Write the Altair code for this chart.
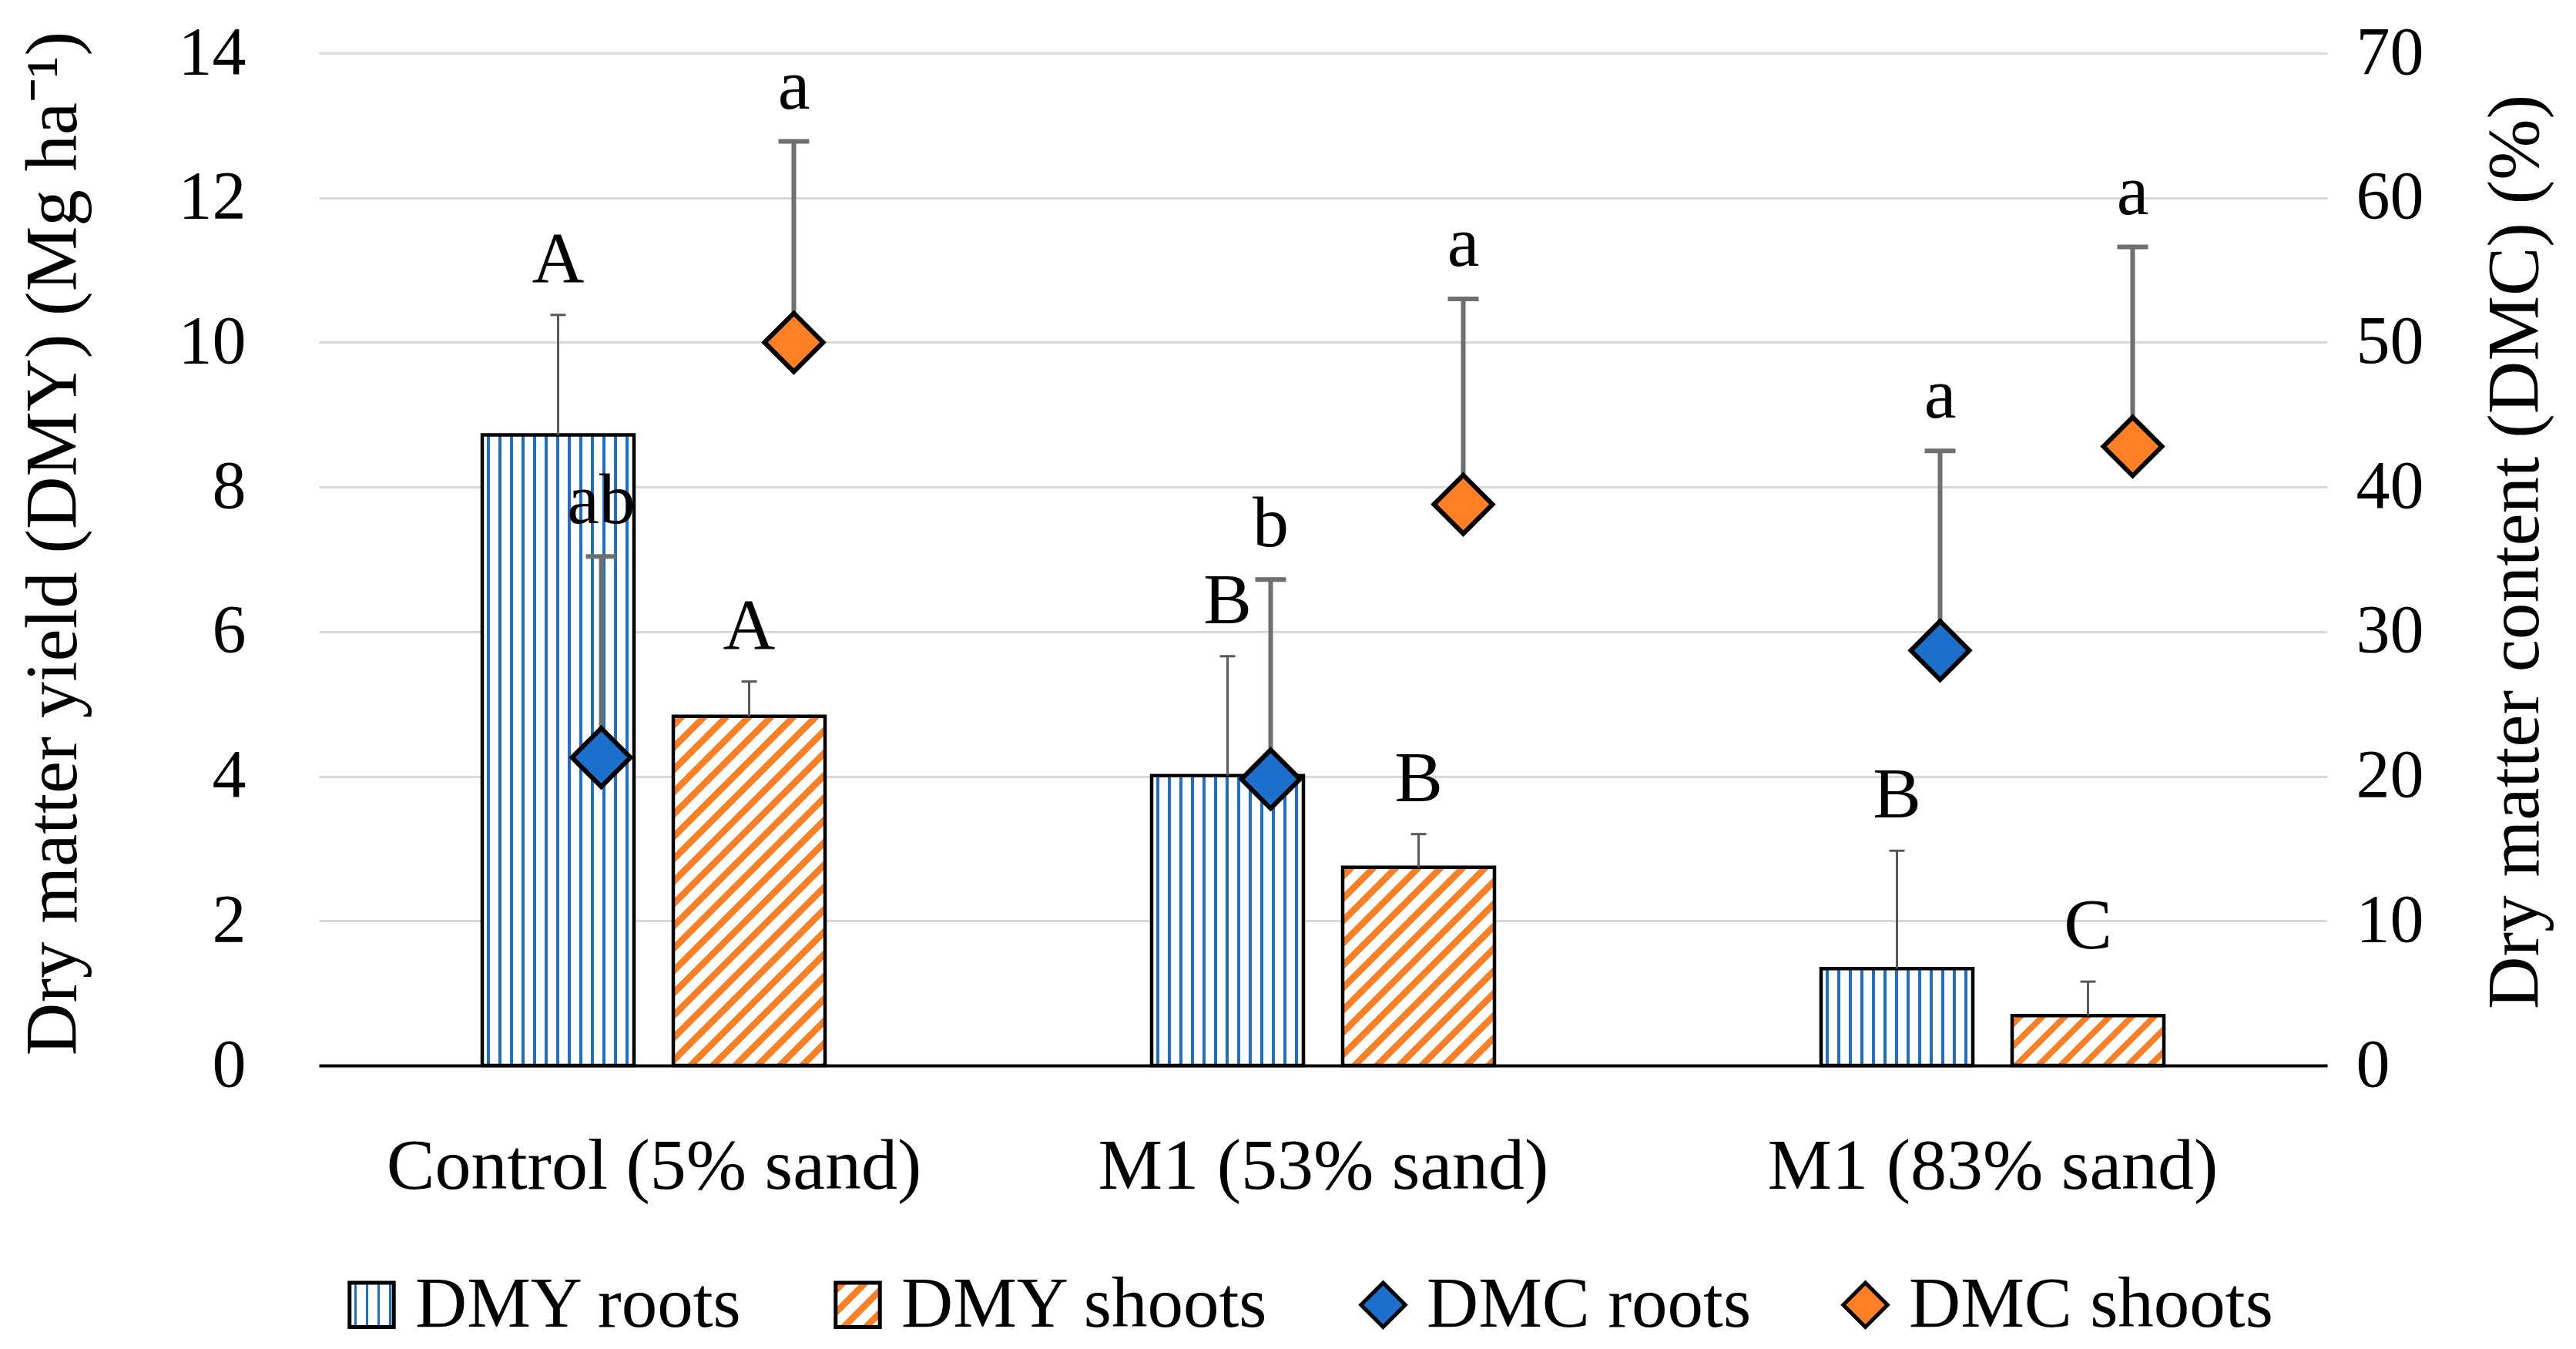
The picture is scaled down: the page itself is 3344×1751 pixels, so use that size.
import json
import altair as alt
import pandas as pd

# ---------------- data ----------------
categories = ["Control (5% sand)", "M1 (53% sand)", "M1 (83% sand)"]
series_names = ["DMY roots", "DMY shoots", "DMC roots", "DMC shoots"]

dmy_roots = [8.72, 4.01, 1.34]
dmy_roots_sd = [1.66, 1.65, 1.63]
dmy_shoots = [4.83, 2.74, 0.69]
dmy_shoots_sd = [0.48, 0.46, 0.47]

dmc_roots = [21.3, 19.8, 28.7]
dmc_roots_sd = [13.9, 13.8, 13.8]
dmc_shoots = [50.0, 38.8, 42.8]
dmc_shoots_sd = [13.9, 14.2, 13.8]

dmy_roots_letters = ["A", "B", "B"]
dmy_shoots_letters = ["A", "B", "C"]
dmc_roots_letters = ["ab", "b", "a"]
dmc_shoots_letters = ["a", "a", "a"]

dmy_ticks = [0, 2, 4, 6, 8, 10, 12, 14]
dmc_ticks = [0, 10, 20, 30, 40, 50, 60, 70]

# ---------------- style / layout ----------------
FONT = "Liberation Serif"
BLUE = "#1C70CC"
ORANGE = "#FF7F24"
PLOT_W, PLOT_H = 2607, 1314
UNIT = PLOT_W / 3.0            # px per category
BAR_W_PX = 197.0
BAR_HALF = BAR_W_PX / 2 / UNIT
BAR_OFF = 124.0 / UNIT
DMC_ROOT_OFF = -68.0 / UNIT
DMC_SHOOT_OFF = 182.0 / UNIT
PX_PER_DMY = PLOT_H / 14.0


def stop(o, c):
    return {"offset": round(max(0.0, min(1.0, o)), 5), "color": c}


def vstripes(w, first=8.0, period=15.0, lw=3.2, color=BLUE):
    stops = [stop(0, "white")]
    p = first - lw / 2
    while p + lw <= w:
        a, b = p / w, (p + lw) / w
        stops += [stop(a, "white"), stop(a, color), stop(b, color), stop(b, "white")]
        p += period
    stops.append(stop(1, "white"))
    return {"gradient": "linear", "x1": 0, "y1": 0, "x2": 1, "y2": 0, "stops": stops}


def dstripes(w, h, period=29.0, frac=0.4, phase=6.0, color=ORANGE):
    L = w + h
    s = w * L / (w * w + h * h)
    stops = [stop(0, "white")]
    p = phase
    while p < L:
        a, b = p / L, (p + frac * period) / L
        stops += [stop(a, "white"), stop(a, color), stop(b, color), stop(b, "white")]
        p += period
    stops.append(stop(1, "white"))
    return {"gradient": "linear", "x1": 0, "y1": 0, "x2": round(s, 5),
            "y2": round(s * h / w, 5), "stops": stops}


# ---------------- tables ----------------
dmy_df = pd.DataFrame({
    "i": list(range(3)) * 2,
    "series": ["DMY roots"] * 3 + ["DMY shoots"] * 3,
    "value": dmy_roots + dmy_shoots,
    "sd": dmy_roots_sd + dmy_shoots_sd,
    "letter": dmy_roots_letters + dmy_shoots_letters,
})
dmc_df = pd.DataFrame({
    "i": list(range(3)) * 2,
    "series": ["DMC roots"] * 3 + ["DMC shoots"] * 3,
    "value": dmc_roots + dmc_shoots,
    "sd": dmc_roots_sd + dmc_shoots_sd,
    "letter": dmc_roots_letters + dmc_shoots_letters,
})

# ---------------- scales / axes ----------------
x_scale = alt.Scale(domain=[-0.5, 2.5], nice=False, zero=False)
label_expr = json.dumps(categories) + "[datum.value]"
x_axis = alt.Axis(
    values=[0, 1, 2], labelExpr=label_expr, title=None, grid=False,
    ticks=False, tickSize=0, domain=True, domainColor="black", domainWidth=4,
    labelPadding=159, labelBaseline="alphabetic", labelFont=FONT,
    labelFontSize=94, labelColor="black", labelLimit=2000, labelFlush=False,
    labelOverlap=False,
)
yl_scale = alt.Scale(domain=[0, 14], nice=False, zero=True)
yl_axis = alt.Axis(
    title="Dry matter yield (DMY) (Mg ha⁻¹)", values=dmy_ticks, orient="left",
    grid=True, gridColor="#d9d9d9", gridWidth=3, domain=False, ticks=False,
    tickSize=0, labelPadding=95, labelFont=FONT, labelFontSize=88,
    labelColor="black", labelLimit=1000, titleFont=FONT, titleFontSize=95,
    titleFontWeight="normal", titleColor="black", titleX=-316, titleY=636,
    titleAngle=270, titleBaseline="alphabetic", titleAlign="center",
    titleLimit=3000,
)
yr_scale = alt.Scale(domain=[0, 70], nice=False, zero=True)
yr_axis = alt.Axis(
    title="Dry matter content (DMC) (%)", values=dmc_ticks, orient="right",
    grid=False, domain=False, ticks=False, tickSize=0, labelPadding=37,
    labelFont=FONT, labelFontSize=88, labelColor="black", labelLimit=1000,
    titleFont=FONT, titleFontSize=95, titleFontWeight="normal",
    titleColor="black", titleX=273, titleY=647, titleAngle=270,
    titleBaseline="alphabetic", titleAlign="center", titleLimit=3000,
)

X = alt.X("pos:Q", scale=x_scale, axis=x_axis)

# ---------------- DMY (bars, left axis) ----------------
dmy_base = alt.Chart(dmy_df).transform_calculate(
    pos=f"datum.i + (datum.series == 'DMY roots' ? {-BAR_OFF} : {BAR_OFF})",
    top="datum.value + datum.sd",
).transform_calculate(
    xa=f"datum.pos - {BAR_HALF}",
    xb=f"datum.pos + {BAR_HALF}",
)
YL_val = alt.Y("value:Q", scale=yl_scale, axis=yl_axis)
YL_top = alt.Y("top:Q", scale=yl_scale, axis=yl_axis)

dmy_layers = []
dmy_layers.append(
    dmy_base.transform_filter("datum.series == 'DMY roots'")
    .mark_bar(fill=vstripes(BAR_W_PX), stroke="black", strokeWidth=4.5)
    .encode(x=alt.X("xa:Q", scale=x_scale, axis=x_axis), x2="xb:Q",
            y=YL_val, y2=alt.datum(0))
)
for k in range(3):
    h_px = dmy_shoots[k] * PX_PER_DMY
    dmy_layers.append(
        dmy_base.transform_filter(f"datum.series == 'DMY shoots' && datum.i == {k}")
        .mark_bar(fill=dstripes(BAR_W_PX, h_px), stroke="black", strokeWidth=4.5)
        .encode(x=alt.X("xa:Q", scale=x_scale, axis=x_axis), x2="xb:Q",
                y=YL_val, y2=alt.datum(0))
    )
dmy_layers.append(
    dmy_base.mark_rule(color="#595959", strokeWidth=3)
    .encode(x=X, y=YL_val, y2="top:Q")
)
dmy_layers.append(
    dmy_base.mark_rule(color="#595959", strokeWidth=3, xOffset=-10, x2Offset=10)
    .encode(x=X, x2="pos:Q", y=YL_top)
)
dmy_layers.append(
    dmy_base.mark_text(font=FONT, fontSize=94, baseline="alphabetic", dy=-43,
                       color="black")
    .encode(x=X, y=YL_top, text="letter:N")
)
dmy_layer = alt.layer(*dmy_layers)

# ---------------- DMC (diamonds, right axis) ----------------
dmc_base = alt.Chart(dmc_df).transform_calculate(
    pos=f"datum.i + (datum.series == 'DMC roots' ? {DMC_ROOT_OFF} : {DMC_SHOOT_OFF})",
    top="datum.value + datum.sd",
)
YR_val = alt.Y("value:Q", scale=yr_scale, axis=yr_axis)
YR_top = alt.Y("top:Q", scale=yr_scale, axis=yr_axis)

legend_grad_roots = {"expr": json.dumps(vstripes(57.4, first=8.0, lw=3.0))}
legend_grad_shoots = {"expr": json.dumps(dstripes(57.4, 57.4, phase=4.0))}
color_scale = alt.Scale(domain=series_names,
                        range=[legend_grad_roots, legend_grad_shoots, BLUE, ORANGE])
shape_scale = alt.Scale(domain=series_names,
                        range=["square", "square", "diamond", "diamond"])
stroke_scale = alt.Scale(domain=series_names,
                         range=["black", "black", "black", "black"])
legend = alt.Legend(
    title=None, orient="none", legendX=22, legendY=1578, direction="horizontal",
    columns=4, symbolSize=3300, symbolStrokeWidth=5,
    symbolOpacity=1, labelFont=FONT, labelFontSize=93, labelColor="black",
    labelLimit=1000, labelOffset=10, columnPadding=101, padding=0,
)

dmc_layers = [
    dmc_base.mark_rule(color="#6f6f6f", strokeWidth=6)
    .encode(x=X, y=YR_val, y2="top:Q"),
    dmc_base.mark_rule(color="#6f6f6f", strokeWidth=6, xOffset=-20, x2Offset=20)
    .encode(x=X, x2="pos:Q", y=YR_top),
    dmc_base.mark_point(filled=True, size=5776, strokeWidth=6, opacity=1)
    .encode(x=X, y=YR_val,
            color=alt.Color("series:N", scale=color_scale, legend=legend),
            shape=alt.Shape("series:N", scale=shape_scale, legend=legend),
            stroke=alt.Stroke("series:N", scale=stroke_scale, legend=legend)),
    dmc_base.mark_text(font=FONT, fontSize=94, baseline="alphabetic", dy=-43,
                       color="black")
    .encode(x=X, y=YR_top, text="letter:N"),
]
dmc_layer = alt.layer(*dmc_layers)

chart = (
    alt.layer(dmy_layer, dmc_layer)
    .resolve_scale(y="independent")
    .properties(
        width=PLOT_W, height=PLOT_H,
        autosize=alt.AutoSizeParams(type="none"),
        padding={"left": 406, "top": 61, "right": 300, "bottom": 366},
        background="white",
    )
    .configure_view(stroke=None)
)

chart.save("out.html", embed_options={"renderer": "svg", "actions": False})
